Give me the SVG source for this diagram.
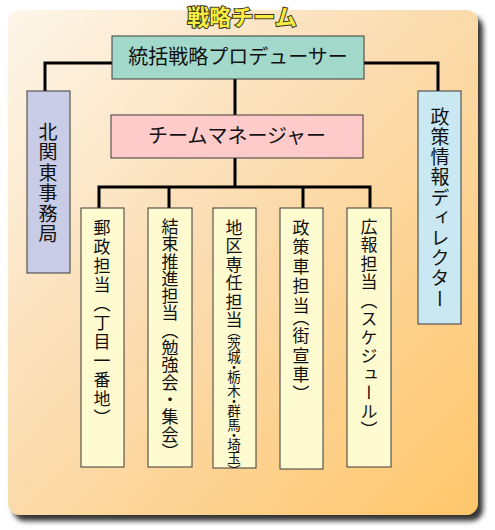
<svg xmlns="http://www.w3.org/2000/svg" width="495" height="530" viewBox="0 0 495 530">
<defs>
<linearGradient id="bg" x1="0" y1="0" x2="1" y2="1">
<stop offset="0" stop-color="#fdf6ea"/>
<stop offset="0.45" stop-color="#fbdcb0"/>
<stop offset="1" stop-color="#ffc66a"/>
</linearGradient>
<filter id="sh" x="-5%" y="-5%" width="115%" height="115%">
<feDropShadow dx="5" dy="6" stdDeviation="2.5" flood-color="#1a1a1a" flood-opacity="0.9"/>
</filter>
<style>
.box{stroke:#3a3a3a;stroke-width:1}
.h{font-family:"Noto Sans CJK JP","Noto Sans CJK SC",sans-serif;font-size:20px;fill:#111;text-anchor:middle}
.v{font-family:"Noto Sans CJK JP","Noto Sans CJK SC",sans-serif;font-size:17px;fill:#111;writing-mode:vertical-rl;letter-spacing:1.5px}
.vb{font-size:19px;letter-spacing:1.5px}
.sm{font-size:13.5px;letter-spacing:0px;font-feature-settings:"vpal"}
.c{fill:none;stroke:#000;stroke-width:3}
</style>
</defs>
<rect x="8" y="10" width="470" height="505" rx="12" fill="url(#bg)" filter="url(#sh)"/>
<text x="242" y="25" font-family="'Noto Sans CJK JP',sans-serif" font-weight="bold" font-size="22" text-anchor="middle" fill="#f8ec40" stroke="#3a3520" stroke-width="2" paint-order="stroke">戦略チーム</text>
<g id="connectors">
<path class="c" d="M112 63H45V91M364 63H438V91"/>
<path class="c" d="M235 79V115"/>
<path class="c" d="M235 158V187M99 208V187H370V208M169 187V208M303 187V208"/>
</g>
<g id="producer"><rect class="box" x="112" y="36" width="252" height="43" fill="#a3d9cb"/><text class="h" x="238" y="64">統括戦略プロデューサー</text></g>
<g id="manager"><rect class="box" x="111" y="115" width="252" height="43" fill="#ffcaca"/><text class="h" x="237" y="143">チームマネージャー</text></g>
<g id="kitakanto"><rect class="box" x="27" y="91" width="43" height="182" fill="#c8cce6"/><text class="v vb" x="48" y="122">北関東事務局</text></g>
<g id="director"><rect class="box" x="418" y="91" width="43" height="233" fill="#c9e8f2"/><text class="v vb" x="440" y="107" style="letter-spacing:1.2px">政策情報ディレクター</text></g>
<g id="yusei"><rect class="box" x="81" y="208" width="43" height="259" fill="#fffbd0"/><text class="v" x="102" y="219" style="letter-spacing:2px">郵政担当（丁目一番地）</text></g>
<g id="kessoku"><rect class="box" x="148" y="208" width="44" height="259" fill="#fffbd0"/><text class="v" x="170" y="218" style="letter-spacing:0.3px">結束推進担当（勉強会・集会）</text></g>
<g id="chiku"><rect class="box" x="213" y="208" width="43" height="260" fill="#fffbd0"/><text class="v" x="234" y="219">地区専任担当<tspan class="sm">（茨城・栃木・群馬・埼玉）</tspan></text></g>
<g id="seisakusha"><rect class="box" x="280" y="208" width="43" height="261" fill="#fffbd0"/><text class="v" x="301" y="219" style="font-feature-settings:'vpal';letter-spacing:2.5px">政策車担当（街宣車）</text></g>
<g id="koho"><rect class="box" x="347" y="208" width="44" height="259" fill="#fffbd0"/><text class="v" x="369" y="218" style="letter-spacing:1.5px">広報担当（スケジュール）</text></g>
</svg>
